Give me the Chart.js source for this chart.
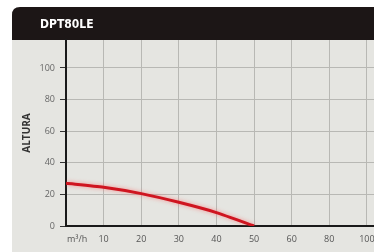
<!DOCTYPE html>
<html><head><meta charset="utf-8">
<script src="https://cdn.jsdelivr.net/npm/chart.js@4"></script>
<style>html,body{margin:0;padding:0;background:#fff;}#wrap{width:374px;height:252px;}</style>
</head><body><div id="wrap"><canvas id="c" width="374" height="252"></canvas></div>
<script>
const title = 'DPT80LE';
const yTitle = 'ALTURA';
const xUnit = 'm³/h';
const xTickLabels = ['', '10', '20', '30', '40', '50', '60', '80', '100'];
const flowIndex = [0, 1, 2, 3, 4, 5];
const heightValues = [27, 24.5, 20.5, 15, 8.5, 0];
const yTicks = [0, 20, 40, 60, 80, 100];

const panelPlugin = {
  id: 'panel',
  beforeDraw(chart) {
    const ctx = chart.ctx;
    ctx.save();
    ctx.fillStyle = '#e5e5e1';
    ctx.fillRect(12, 38, 362, 214);
    ctx.fillStyle = '#1c1616';
    ctx.beginPath();
    const x0 = 12, y0 = 7, r = 8;
    ctx.moveTo(x0, 40);
    ctx.lineTo(x0, y0 + r);
    ctx.quadraticCurveTo(x0, y0, x0 + r, y0);
    ctx.lineTo(374, y0);
    ctx.lineTo(374, 40);
    ctx.closePath();
    ctx.fill();
    ctx.fillStyle = '#ffffff';
    ctx.font = 'bold 12px "DejaVu Sans Condensed", "DejaVu Sans", sans-serif';
    ctx.textBaseline = 'middle';
    ctx.textAlign = 'left';
    ctx.fillText(title, 40, 25);
    ctx.restore();
  },
  afterDraw(chart) {
    const ctx = chart.ctx;
    const xs = chart.scales.x;
    ctx.save();
    ctx.fillStyle = '#555';
    ctx.font = '9px "Open Sans", sans-serif';
    ctx.textAlign = 'left';
    ctx.textBaseline = 'middle';
    ctx.fillText(xUnit, xs.getPixelForValue(0) + 1, 239);
    ctx.restore();
  }
};

const glowPlugin = {
  id: 'glow',
  beforeDatasetDraw(chart) {
    chart.ctx.save();
    chart.ctx.shadowColor = 'rgba(255,90,90,0.6)';
    chart.ctx.shadowBlur = 4;
  },
  afterDatasetDraw(chart) { chart.ctx.restore(); }
};

new Chart(document.getElementById('c'), {
  type: 'line',
  data: {
    datasets: [{
      data: flowIndex.map((x, i) => ({ x: x, y: heightValues[i] })),
      borderColor: '#cf1520',
      borderWidth: 3,
      pointRadius: 0,
      tension: 0.2,
      fill: false
    }]
  },
  options: {
    responsive: false,
    animation: false,
    layout: { padding: { left: 12, top: 40, right: 0, bottom: 0 } },
    plugins: { legend: { display: false }, tooltip: { enabled: false } },
    scales: {
      x: {
        type: 'linear', min: 0, max: 8.19,
        afterBuildTicks(s) { s.ticks = xTickLabels.map((_, i) => ({ value: i })); },
        afterFit(s) { s.height = 26; s.paddingRight = 0; s.paddingLeft = 0; },
        ticks: {
          callback: (v) => xTickLabels[v] !== undefined ? xTickLabels[v] : '',
          color: '#555', font: { size: 9, family: '"Open Sans", sans-serif' }, padding: 8, maxRotation: 0, autoSkip: false
        },
        grid: { color: '#b8b8b4', lineWidth: 1, drawTicks: false },
        border: { color: '#1a1a1a', width: 2 }
      },
      y: {
        min: 0, max: 117.7,
        afterBuildTicks(s) { s.ticks = yTicks.map(v => ({ value: v })); },
        afterFit(s) { s.width = 54; s.paddingTop = 0; s.paddingBottom = 0; },
        ticks: { color: '#666', font: { size: 9, family: '"Open Sans", sans-serif' }, padding: 5 },
        grid: { color: '#b8b8b4', lineWidth: 1, tickLength: 6, tickColor: '#333' },
        border: { color: '#1a1a1a', width: 2 },
        title: { display: true, text: yTitle, color: '#333', font: { size: 10, weight: 'bold', family: '"Open Sans", sans-serif' }, padding: { top: 9, bottom: 0 } }
      }
    }
  },
  plugins: [panelPlugin, glowPlugin]
});
</script></body></html>
